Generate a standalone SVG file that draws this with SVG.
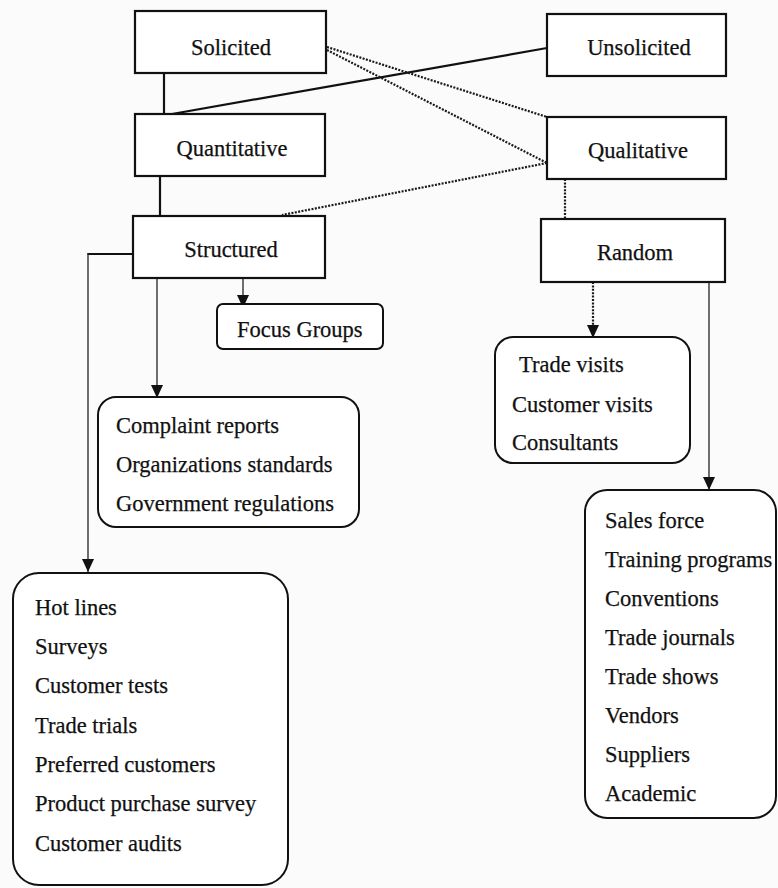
<svg xmlns="http://www.w3.org/2000/svg" width="778" height="888" viewBox="0 0 778 888">
  <style>
    .box { fill: #ffffff; stroke: #111111; stroke-width: 2.2; }
    .rbox { fill: #ffffff; stroke: #111111; stroke-width: 2; }
    .lbl { font-family: "Liberation Serif", "Times New Roman", serif; font-size: 22.5px; fill: #111111; stroke: #111111; stroke-width: 0.25; }
    .mid { text-anchor: middle; }
    .solid { fill: none; stroke: #111111; stroke-width: 2.2; }
    .thin { fill: none; stroke: #222222; stroke-width: 1.3; }
    .dot { fill: none; stroke: #1a1a1a; stroke-width: 2.2; stroke-dasharray: 2 1.4; }
  </style>
  <defs>
    <!-- filled triangle pointing along the line direction -->
    <marker id="arrow" viewBox="0 0 13 12" refX="13" refY="6" markerWidth="13" markerHeight="12" markerUnits="userSpaceOnUse" orient="auto">
      <path d="M0,0 L13,6 L0,12 Z" fill="#111111"/>
    </marker>
  </defs>
  <rect width="778" height="888" fill="#fbfbfb"/>

  <!-- connectors -->
  <g id="connectors">
    <line class="solid" x1="164" y1="73" x2="164" y2="116"/>
    <line class="solid" x1="172" y1="114" x2="547" y2="48"/>
    <line class="dot" x1="327" y1="47" x2="547" y2="117"/>
    <line class="dot" x1="327" y1="50" x2="547" y2="163"/>
    <line class="dot" x1="547" y1="163" x2="282" y2="215"/>
    <line class="solid" x1="160" y1="176" x2="160" y2="216"/>
    <line class="dot" x1="565" y1="179" x2="565" y2="219"/>
    <!-- Structured outputs -->
    <line class="solid" x1="133" y1="254" x2="87.5" y2="254"/>
    <line class="thin" x1="88" y1="253" x2="88" y2="572" marker-end="url(#arrow)"/>
    <line class="thin" x1="157" y1="278" x2="157" y2="398" marker-end="url(#arrow)"/>
    <line class="thin" x1="243" y1="278" x2="243" y2="308" marker-end="url(#arrow)"/>
    <!-- Random outputs -->
    <line class="dot" x1="593" y1="282" x2="593" y2="338" marker-end="url(#arrow)"/>
    <line class="thin" x1="709" y1="282" x2="709" y2="490" marker-end="url(#arrow)"/>
  </g>

  <g id="solicited">
    <rect class="box" x="135" y="11" width="191" height="62"/>
    <text class="lbl mid" x="231" y="55">Solicited</text>
  </g>
  <g id="unsolicited">
    <rect class="box" x="547" y="14" width="179" height="62"/>
    <text class="lbl mid" x="639" y="55">Unsolicited</text>
  </g>
  <g id="quantitative">
    <rect class="box" x="135" y="114" width="190" height="62"/>
    <text class="lbl mid" x="232" y="156">Quantitative</text>
  </g>
  <g id="qualitative">
    <rect class="box" x="547" y="117" width="179" height="62"/>
    <text class="lbl mid" x="638" y="158">Qualitative</text>
  </g>
  <g id="structured">
    <rect class="box" x="133" y="216" width="192" height="62"/>
    <text class="lbl mid" x="231" y="257">Structured</text>
  </g>
  <g id="random">
    <rect class="box" x="541" y="219" width="184" height="63"/>
    <text class="lbl mid" x="635" y="260">Random</text>
  </g>
  <g id="focus-groups">
    <rect class="rbox" x="217" y="304" width="166" height="45" rx="6"/>
    <text class="lbl" x="237" y="337">Focus Groups</text>
  </g>
  <g id="complaint-box">
    <rect class="rbox" x="98" y="397" width="261" height="130" rx="18"/>
    <text class="lbl" x="116" y="433">Complaint reports</text>
    <text class="lbl" x="116" y="472">Organizations standards</text>
    <text class="lbl" x="116" y="511">Government regulations</text>
  </g>
  <g id="visits-box">
    <rect class="rbox" x="495" y="337" width="195" height="126" rx="18"/>
    <text class="lbl" x="519" y="372">Trade visits</text>
    <text class="lbl" x="512" y="412">Customer visits</text>
    <text class="lbl" x="512" y="450">Consultants</text>
  </g>
  <g id="hotlines-box">
    <rect class="rbox" x="13" y="573" width="275" height="312" rx="26"/>
    <text class="lbl" x="35" y="615">Hot lines</text>
    <text class="lbl" x="35" y="654">Surveys</text>
    <text class="lbl" x="35" y="693">Customer tests</text>
    <text class="lbl" x="35" y="733">Trade trials</text>
    <text class="lbl" x="35" y="772">Preferred customers</text>
    <text class="lbl" x="35" y="811">Product purchase survey</text>
    <text class="lbl" x="35" y="851">Customer audits</text>
  </g>
  <g id="salesforce-box">
    <rect class="rbox" x="585" y="490" width="191" height="328" rx="22"/>
    <text class="lbl" x="605" y="528">Sales force</text>
    <text class="lbl" x="605" y="567">Training programs</text>
    <text class="lbl" x="605" y="606">Conventions</text>
    <text class="lbl" x="605" y="645">Trade journals</text>
    <text class="lbl" x="605" y="684">Trade shows</text>
    <text class="lbl" x="605" y="723">Vendors</text>
    <text class="lbl" x="605" y="762">Suppliers</text>
    <text class="lbl" x="605" y="801">Academic</text>
  </g>
</svg>
